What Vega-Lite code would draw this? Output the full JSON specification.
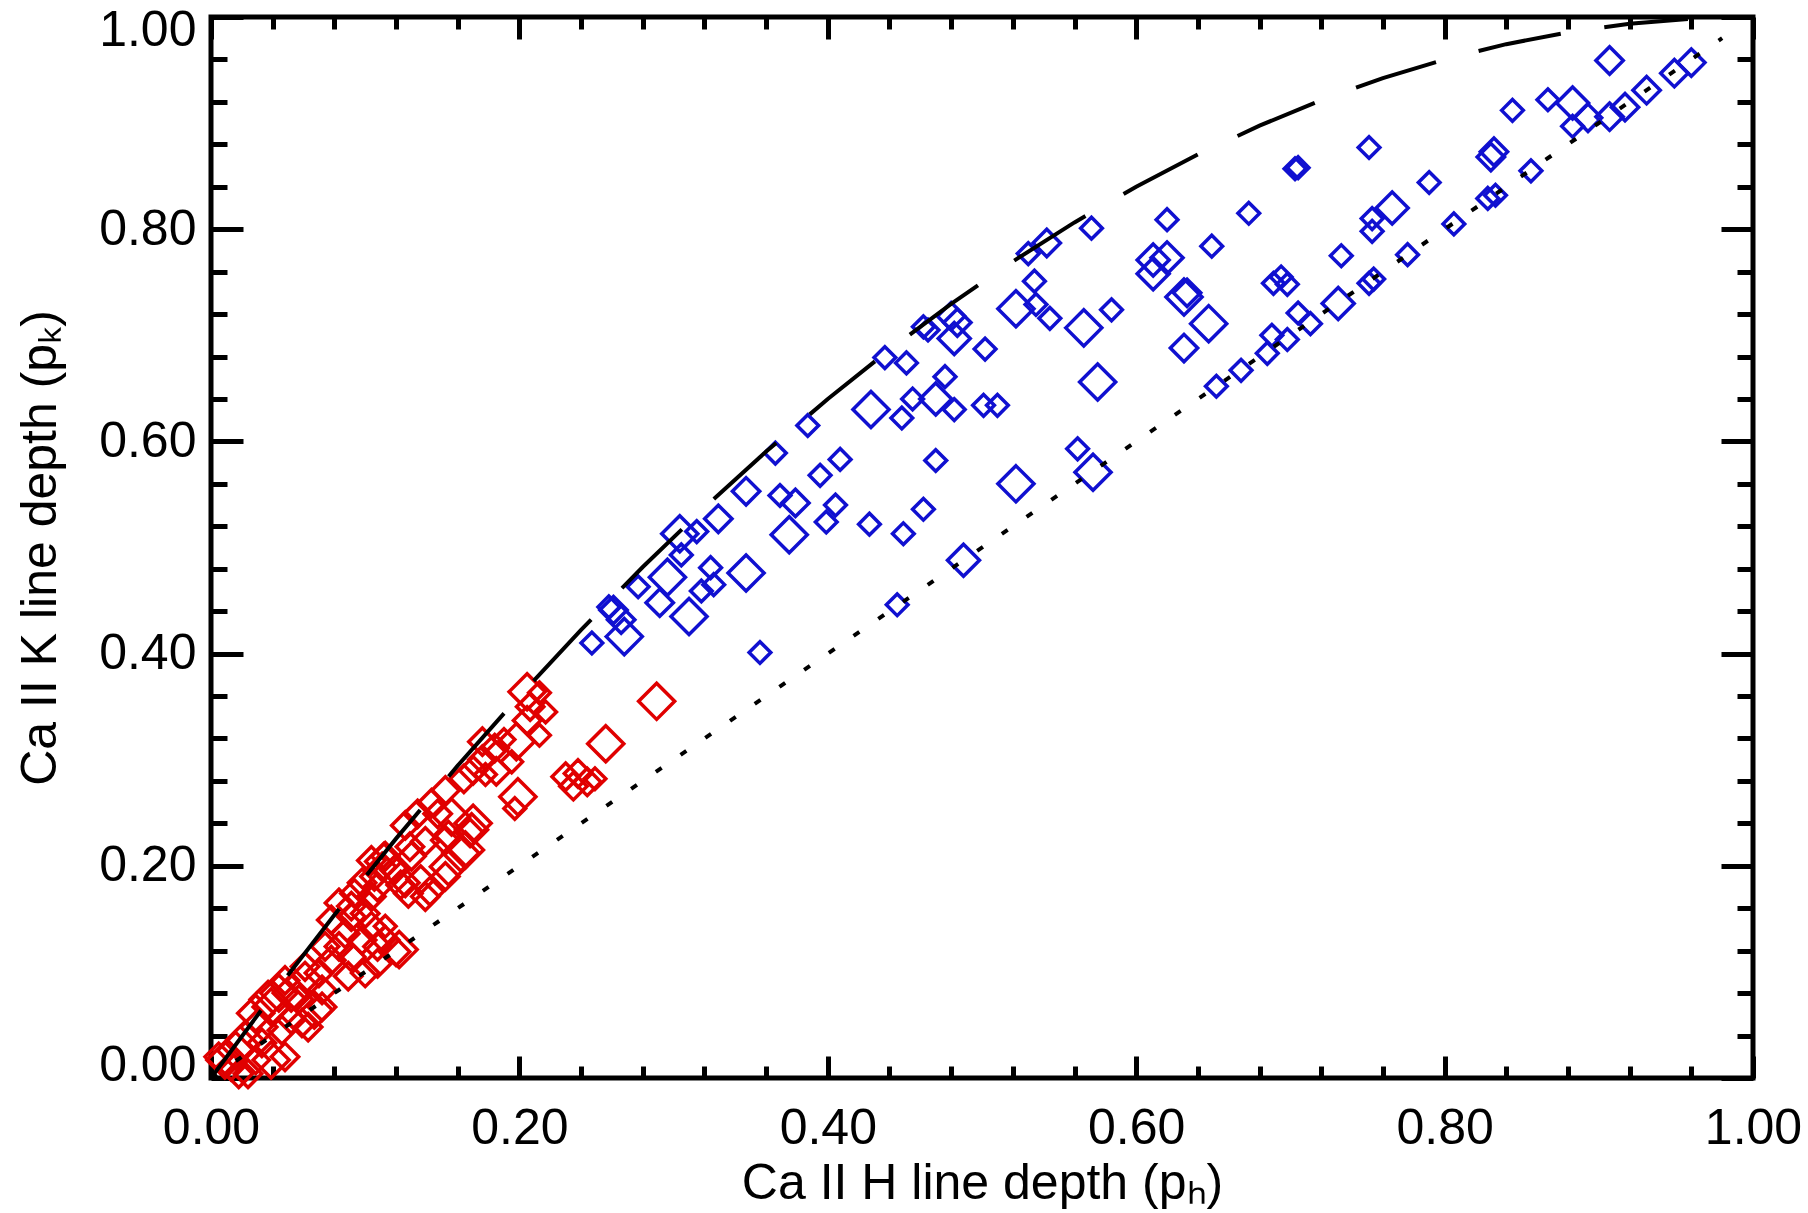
{
  "$schema": "https://vega.github.io/schema/vega-lite/v6.json",
  "width": 1542,
  "height": 1061,
  "autosize": {"type": "none"},
  "padding": {"left": 211, "top": 17, "right": 55, "bottom": 135},
  "background": "white",
  "config": {
    "view": {"stroke": "black", "strokeWidth": 5},
    "axis": {"grid": false, "domain": false, "tickColor": "black", "tickWidth": 5, "labelColor": "black", "titleColor": "black", "labelFont": "Liberation Sans", "titleFont": "Liberation Sans", "labelFontSize": 50, "titleFontSize": 50, "titleFontWeight": "normal", "labelOverlap": false, "labelBound": false, "labelFlush": false}
  },
  "datasets": {
    "red": [
      {"pH":0.289,"pK":0.355,"sz":"l"},{"pH":0.256,"pK":0.315,"sz":"l"},{"pH":0.230,"pK":0.284,"sz":"m"},{"pH":0.238,"pK":0.287,"sz":"m"},
      {"pH":0.244,"pK":0.279,"sz":"m"},{"pH":0.235,"pK":0.275,"sz":"m"},{"pH":0.249,"pK":0.282,"sz":"s"},{"pH":0.205,"pK":0.364,"sz":"l"},
      {"pH":0.213,"pK":0.363,"sz":"s"},{"pH":0.207,"pK":0.350,"sz":"m"},{"pH":0.217,"pK":0.345,"sz":"s"},{"pH":0.205,"pK":0.337,"sz":"m"},
      {"pH":0.213,"pK":0.323,"sz":"s"},{"pH":0.198,"pK":0.317,"sz":"l"},{"pH":0.190,"pK":0.319,"sz":"s"},{"pH":0.176,"pK":0.317,"sz":"m"},
      {"pH":0.184,"pK":0.311,"sz":"m"},{"pH":0.195,"pK":0.298,"sz":"s"},{"pH":0.185,"pK":0.289,"sz":"m"},{"pH":0.176,"pK":0.300,"sz":"m"},
      {"pH":0.170,"pK":0.290,"sz":"m"},{"pH":0.178,"pK":0.286,"sz":"s"},{"pH":0.199,"pK":0.265,"sz":"l"},{"pH":0.197,"pK":0.254,"sz":"s"},
      {"pH":0.164,"pK":0.282,"sz":"m"},{"pH":0.152,"pK":0.271,"sz":"m"},{"pH":0.143,"pK":0.259,"sz":"m"},{"pH":0.134,"pK":0.249,"sz":"m"},
      {"pH":0.126,"pK":0.238,"sz":"m"},{"pH":0.139,"pK":0.223,"sz":"m"},{"pH":0.152,"pK":0.224,"sz":"m"},{"pH":0.165,"pK":0.215,"sz":"l"},
      {"pH":0.154,"pK":0.199,"sz":"l"},{"pH":0.130,"pK":0.209,"sz":"m"},{"pH":0.113,"pK":0.209,"sz":"m"},{"pH":0.111,"pK":0.199,"sz":"m"},
      {"pH":0.126,"pK":0.184,"sz":"m"},{"pH":0.128,"pK":0.174,"sz":"m"},{"pH":0.139,"pK":0.171,"sz":"m"},{"pH":0.098,"pK":0.184,"sz":"m"},
      {"pH":0.093,"pK":0.174,"sz":"m"},{"pH":0.106,"pK":0.190,"sz":"m"},{"pH":0.078,"pK":0.149,"sz":"m"},{"pH":0.091,"pK":0.152,"sz":"m"},
      {"pH":0.100,"pK":0.155,"sz":"m"},{"pH":0.104,"pK":0.143,"sz":"m"},{"pH":0.113,"pK":0.143,"sz":"s"},{"pH":0.087,"pK":0.136,"sz":"m"},
      {"pH":0.098,"pK":0.130,"sz":"m"},{"pH":0.108,"pK":0.124,"sz":"m"},{"pH":0.120,"pK":0.119,"sz":"m"},{"pH":0.091,"pK":0.114,"sz":"m"},
      {"pH":0.108,"pK":0.108,"sz":"m"},{"pH":0.100,"pK":0.099,"sz":"m"},{"pH":0.089,"pK":0.096,"sz":"m"},{"pH":0.078,"pK":0.111,"sz":"m"},
      {"pH":0.070,"pK":0.099,"sz":"m"},{"pH":0.061,"pK":0.092,"sz":"l"},{"pH":0.052,"pK":0.080,"sz":"l"},{"pH":0.044,"pK":0.080,"sz":"l"},
      {"pH":0.039,"pK":0.067,"sz":"l"},{"pH":0.067,"pK":0.064,"sz":"l"},{"pH":0.059,"pK":0.052,"sz":"m"},{"pH":0.052,"pK":0.055,"sz":"m"},
      {"pH":0.046,"pK":0.045,"sz":"m"},{"pH":0.031,"pK":0.048,"sz":"l"},{"pH":0.029,"pK":0.061,"sz":"l"},{"pH":0.022,"pK":0.036,"sz":"l"},
      {"pH":0.016,"pK":0.026,"sz":"l"},{"pH":0.009,"pK":0.017,"sz":"l"},{"pH":0.005,"pK":0.020,"sz":"m"},{"pH":0.013,"pK":0.011,"sz":"m"},
      {"pH":0.029,"pK":0.017,"sz":"m"},{"pH":0.018,"pK":0.004,"sz":"m"},{"pH":0.033,"pK":0.033,"sz":"m"},{"pH":0.057,"pK":0.074,"sz":"m"},
      {"pH":0.037,"pK":0.074,"sz":"l"},{"pH":0.048,"pK":0.092,"sz":"m"},{"pH":0.072,"pK":0.083,"sz":"m"},{"pH":0.061,"pK":0.105,"sz":"m"},
      {"pH":0.072,"pK":0.067,"sz":"m"},{"pH":0.063,"pK":0.048,"sz":"m"},{"pH":0.083,"pK":0.124,"sz":"m"},{"pH":0.074,"pK":0.124,"sz":"m"},
      {"pH":0.091,"pK":0.162,"sz":"m"},{"pH":0.083,"pK":0.165,"sz":"m"},{"pH":0.104,"pK":0.171,"sz":"m"},{"pH":0.104,"pK":0.205,"sz":"m"},
      {"pH":0.119,"pK":0.196,"sz":"m"},{"pH":0.147,"pK":0.249,"sz":"m"},{"pH":0.156,"pK":0.246,"sz":"l"},{"pH":0.169,"pK":0.234,"sz":"ml"},
      {"pH":0.162,"pK":0.212,"sz":"l"},{"pH":0.152,"pK":0.190,"sz":"m"},{"pH":0.108,"pK":0.180,"sz":"m"},{"pH":0.122,"pK":0.121,"sz":"l"},
      {"pH":0.113,"pK":0.130,"sz":"m"},{"pH":0.048,"pK":0.020,"sz":"m"},{"pH":0.039,"pK":0.017,"sz":"l"},{"pH":0.024,"pK":0.004,"sz":"m"},
      {"pH":0.170,"pK":0.240,"sz":"l"},{"pH":0.112,"pK":0.204,"sz":"l"},{"pH":0.129,"pK":0.218,"sz":"m"},{"pH":0.136,"pK":0.187,"sz":"m"},
      {"pH":0.123,"pK":0.182,"sz":"m"},{"pH":0.142,"pK":0.176,"sz":"m"},{"pH":0.154,"pK":0.229,"sz":"m"},{"pH":0.168,"pK":0.231,"sz":"m"}
    ],
    "blue": [
      {"pH":0.907,"pK":0.959,"sz":"m"},{"pH":0.960,"pK":0.957,"sz":"m"},{"pH":0.949,"pK":0.947,"sz":"m"},{"pH":0.931,"pK":0.931,"sz":"m"},
      {"pH":0.867,"pK":0.922,"sz":"s"},{"pH":0.883,"pK":0.919,"sz":"ml"},{"pH":0.893,"pK":0.905,"sz":"m"},{"pH":0.883,"pK":0.897,"sz":"s"},
      {"pH":0.907,"pK":0.906,"sz":"m"},{"pH":0.917,"pK":0.915,"sz":"m"},{"pH":0.844,"pK":0.912,"sz":"s"},{"pH":0.751,"pK":0.877,"sz":"s"},
      {"pH":0.703,"pK":0.857,"sz":"s"},{"pH":0.705,"pK":0.858,"sz":"s"},{"pH":0.832,"pK":0.873,"sz":"m"},{"pH":0.830,"pK":0.868,"sz":"m"},
      {"pH":0.790,"pK":0.844,"sz":"s"},{"pH":0.856,"pK":0.855,"sz":"s"},{"pH":0.673,"pK":0.815,"sz":"s"},{"pH":0.766,"pK":0.820,"sz":"ml"},
      {"pH":0.753,"pK":0.810,"sz":"s"},{"pH":0.753,"pK":0.798,"sz":"s"},{"pH":0.806,"pK":0.805,"sz":"s"},{"pH":0.828,"pK":0.829,"sz":"s"},
      {"pH":0.833,"pK":0.832,"sz":"s"},{"pH":0.733,"pK":0.775,"sz":"s"},{"pH":0.776,"pK":0.776,"sz":"s"},{"pH":0.689,"pK":0.749,"sz":"s"},
      {"pH":0.694,"pK":0.755,"sz":"s"},{"pH":0.698,"pK":0.748,"sz":"s"},{"pH":0.751,"pK":0.749,"sz":"s"},{"pH":0.754,"pK":0.753,"sz":"s"},
      {"pH":0.731,"pK":0.730,"sz":"ml"},{"pH":0.705,"pK":0.721,"sz":"s"},{"pH":0.713,"pK":0.711,"sz":"s"},{"pH":0.688,"pK":0.700,"sz":"s"},
      {"pH":0.698,"pK":0.696,"sz":"s"},{"pH":0.685,"pK":0.683,"sz":"s"},{"pH":0.668,"pK":0.667,"sz":"s"},
      {"pH":0.620,"pK":0.809,"sz":"s"},{"pH":0.571,"pK":0.801,"sz":"s"},{"pH":0.649,"pK":0.784,"sz":"s"},{"pH":0.542,"pK":0.787,"sz":"m"},
      {"pH":0.530,"pK":0.777,"sz":"s"},{"pH":0.611,"pK":0.771,"sz":"ml"},{"pH":0.620,"pK":0.773,"sz":"ml"},{"pH":0.611,"pK":0.758,"sz":"ml"},
      {"pH":0.534,"pK":0.751,"sz":"s"},{"pH":0.522,"pK":0.725,"sz":"l"},{"pH":0.535,"pK":0.729,"sz":"s"},{"pH":0.544,"pK":0.716,"sz":"s"},
      {"pH":0.584,"pK":0.724,"sz":"s"},{"pH":0.566,"pK":0.707,"sz":"l"},{"pH":0.631,"pK":0.736,"sz":"l"},{"pH":0.633,"pK":0.740,"sz":"m"},
      {"pH":0.647,"pK":0.711,"sz":"l"},{"pH":0.631,"pK":0.688,"sz":"m"},{"pH":0.652,"pK":0.652,"sz":"s"},{"pH":0.575,"pK":0.656,"sz":"l"},
      {"pH":0.482,"pK":0.697,"sz":"ml"},{"pH":0.480,"pK":0.718,"sz":"m"},{"pH":0.484,"pK":0.712,"sz":"m"},{"pH":0.462,"pK":0.708,"sz":"s"},
      {"pH":0.465,"pK":0.705,"sz":"s"},{"pH":0.502,"pK":0.687,"sz":"s"},{"pH":0.437,"pK":0.679,"sz":"s"},{"pH":0.451,"pK":0.674,"sz":"s"},
      {"pH":0.476,"pK":0.661,"sz":"s"},{"pH":0.470,"pK":0.640,"sz":"ml"},{"pH":0.455,"pK":0.640,"sz":"s"},{"pH":0.482,"pK":0.630,"sz":"s"},
      {"pH":0.448,"pK":0.622,"sz":"s"},{"pH":0.501,"pK":0.634,"sz":"s"},{"pH":0.510,"pK":0.634,"sz":"s"},{"pH":0.470,"pK":0.582,"sz":"s"},
      {"pH":0.562,"pK":0.593,"sz":"s"},{"pH":0.572,"pK":0.571,"sz":"l"},{"pH":0.522,"pK":0.560,"sz":"l"},{"pH":0.462,"pK":0.536,"sz":"s"},
      {"pH":0.449,"pK":0.513,"sz":"s"},{"pH":0.488,"pK":0.488,"sz":"ml"},{"pH":0.445,"pK":0.446,"sz":"s"},
      {"pH":0.387,"pK":0.615,"sz":"s"},{"pH":0.428,"pK":0.630,"sz":"l"},{"pH":0.366,"pK":0.589,"sz":"s"},{"pH":0.408,"pK":0.583,"sz":"s"},
      {"pH":0.395,"pK":0.568,"sz":"s"},{"pH":0.347,"pK":0.553,"sz":"m"},{"pH":0.369,"pK":0.549,"sz":"s"},{"pH":0.379,"pK":0.542,"sz":"m"},
      {"pH":0.405,"pK":0.540,"sz":"s"},{"pH":0.399,"pK":0.524,"sz":"s"},{"pH":0.427,"pK":0.522,"sz":"s"},{"pH":0.375,"pK":0.512,"sz":"l"},
      {"pH":0.329,"pK":0.527,"sz":"m"},{"pH":0.315,"pK":0.515,"sz":"s"},{"pH":0.304,"pK":0.513,"sz":"l"},{"pH":0.305,"pK":0.493,"sz":"s"},
      {"pH":0.324,"pK":0.481,"sz":"s"},{"pH":0.347,"pK":0.476,"sz":"l"},{"pH":0.296,"pK":0.472,"sz":"l"},{"pH":0.326,"pK":0.465,"sz":"s"},
      {"pH":0.318,"pK":0.459,"sz":"s"},{"pH":0.277,"pK":0.463,"sz":"s"},{"pH":0.291,"pK":0.448,"sz":"m"},{"pH":0.310,"pK":0.435,"sz":"l"},
      {"pH":0.261,"pK":0.441,"sz":"m"},{"pH":0.258,"pK":0.444,"sz":"s"},{"pH":0.266,"pK":0.432,"sz":"m"},{"pH":0.268,"pK":0.416,"sz":"l"},
      {"pH":0.247,"pK":0.410,"sz":"s"},{"pH":0.356,"pK":0.401,"sz":"s"}
    ],
    "dashed": [
      {"pH":0,"pK":0},{"pH":0.04,"pK":0.0784},{"pH":0.08,"pK":0.1536},{"pH":0.12,"pK":0.2256},{"pH":0.16,"pK":0.2944},
      {"pH":0.2,"pK":0.36},{"pH":0.24,"pK":0.4224},{"pH":0.28,"pK":0.4816},{"pH":0.32,"pK":0.5376},{"pH":0.36,"pK":0.5904},
      {"pH":0.4,"pK":0.64},{"pH":0.44,"pK":0.6864},{"pH":0.48,"pK":0.7296},{"pH":0.52,"pK":0.7696},{"pH":0.56,"pK":0.8064},
      {"pH":0.6,"pK":0.84},{"pH":0.64,"pK":0.8704},{"pH":0.68,"pK":0.8976},{"pH":0.72,"pK":0.9216},{"pH":0.76,"pK":0.9424},
      {"pH":0.8,"pK":0.96},{"pH":0.84,"pK":0.9744},{"pH":0.88,"pK":0.9856},{"pH":0.92,"pK":0.9936},{"pH":0.96,"pK":0.9984}
    ],
    "dotted": [
      {"pH":0,"pK":0},{"pH":0.98,"pK":0.98}
    ]
  },
  "layer": [
    {
      "data": {"name": "red"},
      "mark": {"type": "point", "shape": "diamond", "filled": false, "stroke": "#e00000", "strokeWidth": 3.5, "opacity": 1},
      "encoding": {
        "x": {"field": "pH", "type": "quantitative", "scale": {"domain": [0, 1], "nice": false, "zero": false},
          "axis": {"orient": "bottom", "values": [0, 0.2, 0.4, 0.6, 0.8, 1], "format": ".2f", "tickSize": -22, "labelPadding": 47, "title": "Ca II H line depth (pₕ)", "titlePadding": 5}},
        "y": {"field": "pK", "type": "quantitative", "scale": {"domain": [0, 1], "nice": false, "zero": false},
          "axis": {"orient": "left", "values": [0, 0.2, 0.4, 0.6, 0.8, 1], "format": ".2f", "tickSize": -32, "labelPadding": 47, "labelFlush": true, "labelFlushOffset": 12, "title": "Ca II K line depth (pₖ)", "titlePadding": 33}},
        "size": {"field": "sz", "type": "ordinal", "scale": {"domain": ["s", "m", "ml", "l"], "range": [470, 1300, 2000, 3300]}, "legend": null}
      }
    },
    {
      "data": {"name": "blue"},
      "mark": {"type": "point", "shape": "diamond", "filled": false, "stroke": "#1010d0", "strokeWidth": 3.5, "opacity": 1},
      "encoding": {
        "x": {"field": "pH", "type": "quantitative",
          "axis": {"orient": "bottom", "values": [0.04, 0.08, 0.12, 0.16, 0.24, 0.28, 0.32, 0.36, 0.44, 0.48, 0.52, 0.56, 0.64, 0.68, 0.72, 0.76, 0.84, 0.88, 0.92, 0.96], "tickSize": -12, "labels": false, "title": null}},
        "y": {"field": "pK", "type": "quantitative",
          "axis": {"orient": "left", "values": [0.04, 0.08, 0.12, 0.16, 0.24, 0.28, 0.32, 0.36, 0.44, 0.48, 0.52, 0.56, 0.64, 0.68, 0.72, 0.76, 0.84, 0.88, 0.92, 0.96], "tickSize": -16, "labels": false, "title": null}},
        "size": {"field": "sz", "type": "ordinal", "legend": null}
      }
    },
    {
      "data": {"name": "dashed"},
      "mark": {"type": "line", "stroke": "black", "strokeWidth": 4, "strokeDash": [84, 44]},
      "encoding": {
        "x": {"field": "pH", "type": "quantitative",
          "axis": {"orient": "top", "values": [0, 0.2, 0.4, 0.6, 0.8, 1], "tickSize": -22, "labels": false, "title": null}},
        "y": {"field": "pK", "type": "quantitative",
          "axis": {"orient": "right", "values": [0, 0.2, 0.4, 0.6, 0.8, 1], "tickSize": -32, "labels": false, "title": null}}
      }
    },
    {
      "data": {"name": "dotted"},
      "mark": {"type": "line", "stroke": "black", "strokeWidth": 4, "strokeDash": [7, 23]},
      "encoding": {
        "x": {"field": "pH", "type": "quantitative",
          "axis": {"orient": "top", "values": [0.04, 0.08, 0.12, 0.16, 0.24, 0.28, 0.32, 0.36, 0.44, 0.48, 0.52, 0.56, 0.64, 0.68, 0.72, 0.76, 0.84, 0.88, 0.92, 0.96], "tickSize": -12, "labels": false, "title": null}},
        "y": {"field": "pK", "type": "quantitative",
          "axis": {"orient": "right", "values": [0.04, 0.08, 0.12, 0.16, 0.24, 0.28, 0.32, 0.36, 0.44, 0.48, 0.52, 0.56, 0.64, 0.68, 0.72, 0.76, 0.84, 0.88, 0.92, 0.96], "tickSize": -16, "labels": false, "title": null}}
      }
    }
  ],
  "resolve": {"axis": {"x": "independent", "y": "independent"}}
}
